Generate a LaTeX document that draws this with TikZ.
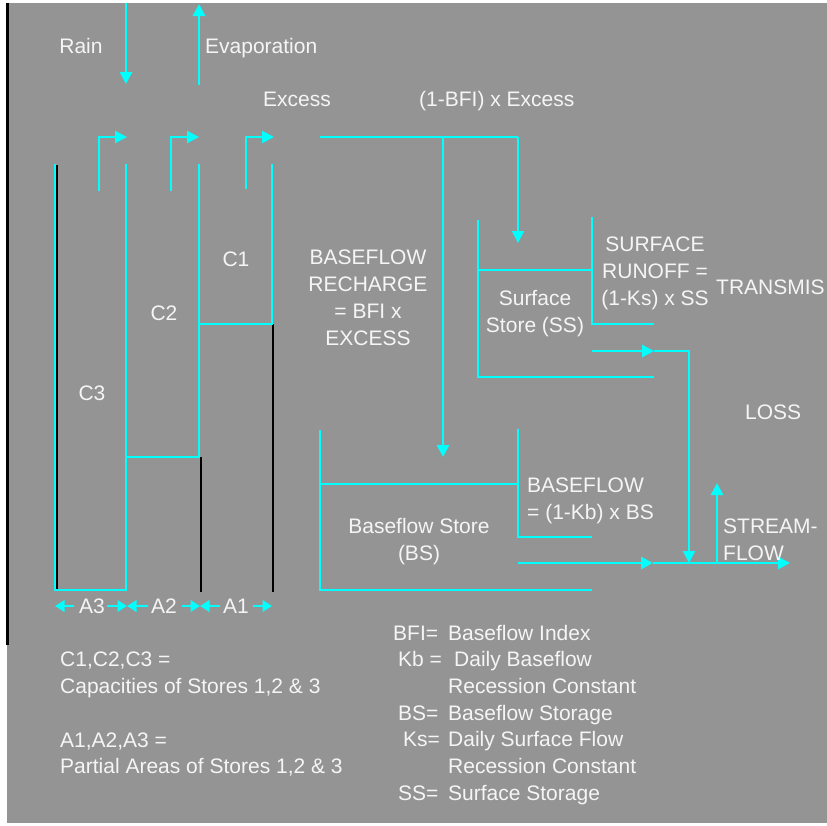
\documentclass[tikz,border=0pt]{standalone}
\usepackage{fontspec}
\setmainfont{Liberation Sans}
\usetikzlibrary{arrows.meta}
\definecolor{bg}{RGB}{148,148,148}
\definecolor{cy}{RGB}{0,255,255}
\definecolor{txt}{RGB}{245,245,245}
\begin{document}
\begin{tikzpicture}[x=1pt,y=-1pt,
  lab/.style={text=txt,inner sep=0pt,font=\fontsize{21}{26.7}\selectfont},
  labc/.style={lab,anchor=base},
  labl/.style={lab,anchor=base west},
  wall/.style={draw=cy,line width=1.5pt},
  blk/.style={draw=black,line width=2pt},
  flowline/.style={draw=cy,line width=2.8pt},
  arrowhd/.style={-{Triangle[length=12pt,width=12pt]}},
  smallhd/.style={draw=cy,line width=2.2pt,-{Triangle[length=9.5pt,width=11.5pt]}}
]
\useasboundingbox (0,0) rectangle (827,825);
\fill[white] (0,0) rectangle (827,825);
\fill[bg] (7,3) rectangle (827,823);
\draw[black,line width=2.5pt] (7.5,3) -- (7.5,645);

% black partial-area lines
\draw[blk] (56.5,165) -- (56.5,590);
\draw[blk] (200.5,457) -- (200.5,592);
\draw[blk] (272.5,324) -- (272.5,592);

% store columns
\draw[wall] (55,164) -- (55,590) -- (126,590) -- (126,164);
\draw[wall] (199,164) -- (199,457) -- (126,457);
\draw[wall] (272,164) -- (272,324) -- (199,324);

% rain and evaporation
\coordinate (rainTop) at (126,3);
\coordinate (rainEnd) at (126,84);
\coordinate (evapBot) at (199,85);
\coordinate (evapTop) at (199,4);
\draw[flowline,arrowhd] (rainTop) -- (rainEnd);
\draw[flowline,arrowhd] (evapBot) -- (evapTop);

% small excess arrows
\foreach \xa/\xb/\yb in {99/127/191, 171/199/191, 246/274/189}{
  \draw[wall] (\xa,\yb) -- (\xa,137);
  \draw[flowline,line width=2.4pt,arrowhd] (\xa-0.7,137) -- (\xb,137);
}

% area arrows
\draw[smallhd] (74,606) -- (55,606);
\draw[smallhd] (107,606) -- (127,606);
\draw[smallhd] (148,606) -- (127,606);
\draw[smallhd] (182,606) -- (200,606);
\draw[smallhd] (220,606) -- (200,606);
\draw[smallhd] (253,606) -- (272,606);

% excess split
\coordinate (exA) at (320,137);
\coordinate (exB) at (443,137);
\coordinate (exC) at (518,137);
\draw[wall] (exA) -- (exC);
\draw[draw=cy,line width=2pt,arrowhd] (exC) -- (518,243);
\draw[flowline,arrowhd] (exB) -- (443,457);

% surface store
\draw[wall] (478,220) -- (478,377) -- (654,377);
\draw[wall] (478,270) -- (592,270);
\draw[wall] (592,217) -- (592,324) -- (654,324);
\coordinate (roA) at (592,351);
\coordinate (roB) at (654,351);
\coordinate (roC) at (689,351);
\coordinate (roD) at (689,563);
\draw[flowline,arrowhd] (roA) -- (roB);
\draw[draw=cy,line width=2.4pt,arrowhd] (roB) -- (roC) -- (roD);

% baseflow store
\draw[wall] (320,430) -- (320,590) -- (592,590);
\draw[wall] (320,484) -- (518,484);
\draw[wall] (518,429) -- (518,537) -- (592,537);
\coordinate (sfA) at (518,563);
\coordinate (sfB) at (653,563);
\coordinate (sfC) at (790,563);
\draw[flowline,arrowhd] (sfA) -- (sfB);
\draw[flowline,arrowhd] (sfB) -- (sfC);
\draw[draw=cy,line width=2.5pt,arrowhd] (717,564) -- (717,483);

% labels
\node[labc] (rain) at (81,53.5) {Rain};
\node[labl] (evap) at (205,53) {Evaporation};
\node[labl] (excess) at (263,106.5) {Excess};
\node[labl] (bfiex) at (419,106.5) {(1-BFI) x Excess};
\node[labc] (c1) at (236,266) {C1};
\node[labc] (c2) at (164,320) {C2};
\node[labc] (c3) at (92,400) {C3};
\node[labc] (a3) at (92,613) {A3};
\node[labc] (a2) at (164,613) {A2};
\node[labc] (a1) at (236,613) {A1};

\node[labc] (br1) at (368,264) {BASEFLOW};
\node[labc] (br2) at (368,291) {RECHARGE};
\node[labc] (br3) at (368,318) {= BFI x};
\node[labc] (br4) at (368,345) {EXCESS};

\node[labc] (ss1) at (535,305) {Surface};
\node[labc] (ss2) at (535,332) {Store (SS)};
\node[labc] (sr1) at (655,251) {SURFACE};
\node[labc] (sr2) at (655,278) {RUNOFF =};
\node[labc] (sr3) at (655,305) {(1-Ks) x SS};
\node[labl] (trans) at (716,294) {TRANSMIS};
\node[labl] (loss) at (745,419) {LOSS};

\node[labc] (bs1) at (419,533) {Baseflow Store};
\node[labc] (bs2) at (419,560) {(BS)};
\node[labl] (bf1) at (527,492) {BASEFLOW};
\node[labl] (bf2) at (527,519) {= (1-Kb) x BS};
\node[labl] (st1) at (723,533) {STREAM-};
\node[labl] (st2) at (723,560) {FLOW};

\node[labl] (n1) at (60,666) {C1,C2,C3 =};
\node[labl] (n2) at (60,693) {Capacities of Stores 1,2 \& 3};
\node[labl] (n3) at (60,747) {A1,A2,A3 =};
\node[labl] (n4) at (60,773) {Partial Areas of Stores 1,2 \& 3};

\node[labl] (k1) at (393,640) {BFI=};
\node[labl] (d1) at (448,640) {Baseflow Index};
\node[labl] (k2) at (398,666) {Kb =};
\node[labl] (d2) at (454,666) {Daily Baseflow};
\node[labl] (d3) at (448,693) {Recession Constant};
\node[labl] (k4) at (398,720) {BS=};
\node[labl] (d4) at (448,720) {Baseflow Storage};
\node[labl] (k5) at (403,746) {Ks=};
\node[labl] (d5) at (448,746) {Daily Surface Flow};
\node[labl] (d6) at (448,773) {Recession Constant};
\node[labl] (k7) at (398,800) {SS=};
\node[labl] (d7) at (448,800) {Surface Storage};
\end{tikzpicture}
\end{document}
